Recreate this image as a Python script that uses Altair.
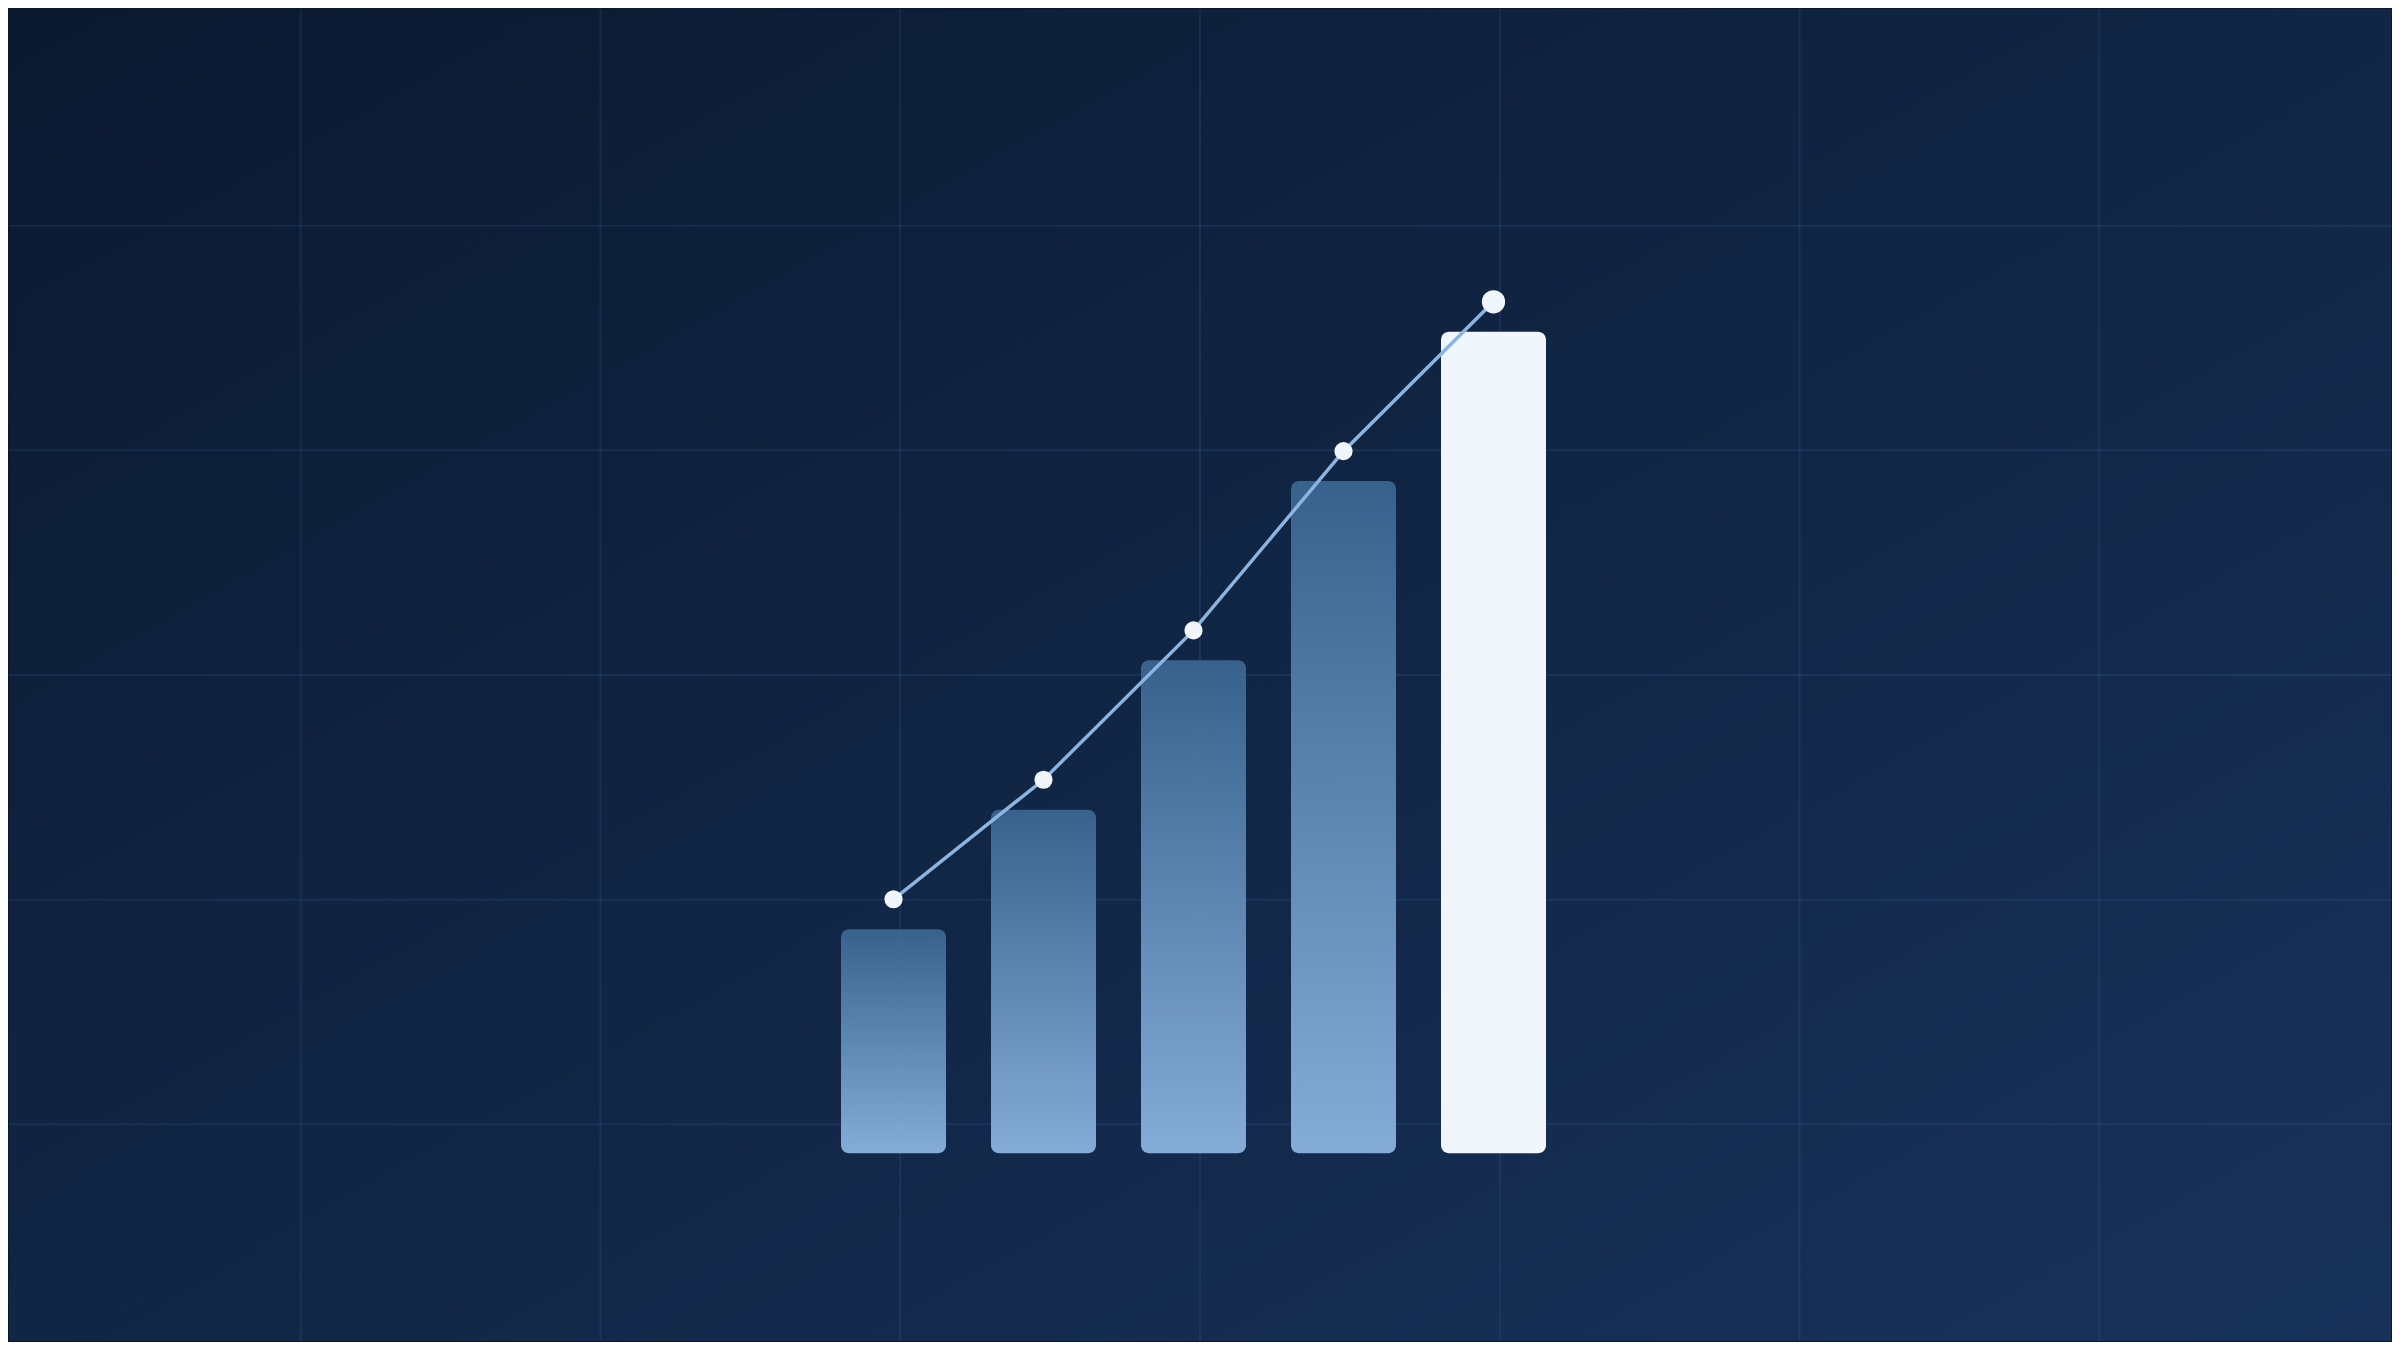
import altair as alt
import pandas as pd

# ---- data ----
categories = ["A", "B", "C", "D", "E"]
bar_values = [15, 23, 33, 45, 55]
line_values = [17, 25, 35, 47, 57]
highlight = [False, False, False, False, True]
grid_x = [1, 2, 3, 4, 5, 6, 7]
grid_y = [1, 2, 3, 4, 5]

W, H = 2384, 1334

df = pd.DataFrame({"cat": categories, "bar": bar_values, "line": line_values, "hl": highlight})

bg_gradient = alt.LinearGradient(
    gradient="linear", x1=0, y1=0, x2=1, y2=1,
    stops=[alt.GradientStop(color="#0b1930", offset=0),
           alt.GradientStop(color="#17325a", offset=1)],
)
bar_gradient = alt.LinearGradient(
    gradient="linear", x1=0, y1=0, x2=0, y2=1,
    stops=[alt.GradientStop(color="#3a6591", offset=0),
           alt.GradientStop(color="#8cb4e0", offset=1)],
)

bg = alt.Chart(pd.DataFrame({"k": [0]})).mark_rect(fill=bg_gradient).encode(
    x=alt.value(0), x2=alt.value("width"), y=alt.value(0), y2=alt.value("height")
)

vgrid = alt.Chart(pd.DataFrame({"gx": grid_x})).mark_rule(
    color="#60a5fa", opacity=0.1, strokeWidth=2
).encode(
    x=alt.X("gx:Q", scale=alt.Scale(domain=[0.0267, 7.9733], nice=False, zero=False), axis=None)
)
hgrid = alt.Chart(pd.DataFrame({"gy": grid_y})).mark_rule(
    color="#60a5fa", opacity=0.1, strokeWidth=2
).encode(
    y=alt.Y("gy:Q", scale=alt.Scale(domain=[0.0356, 5.9644], nice=False, zero=False), axis=None)
)
grid = alt.layer(vgrid, hgrid)

x_enc = alt.X("cat:N", sort=categories, axis=None,
              scale=alt.Scale(domain=categories, paddingInner=0.3, paddingOuter=0,
                              range=[832, 1537]))
y_scale = alt.Scale(domain=[-12.57, 76.6], zero=False, nice=False)

base = alt.Chart(df)

bars_grad = base.transform_filter("!datum.hl").mark_bar(
    fill=bar_gradient, cornerRadius=8, opacity=0.94
).encode(
    x=x_enc,
    y=alt.Y("bar:Q", scale=y_scale, axis=None),
    y2=alt.datum(0),
)
bar_white = base.transform_filter("datum.hl").mark_bar(
    fill="#f0f6fb", cornerRadius=8
).encode(
    x=x_enc,
    y=alt.Y("bar:Q", scale=y_scale, axis=None),
    y2=alt.datum(0),
)
line = base.mark_line(color="#8cb4e0", strokeWidth=3.5).encode(
    x=x_enc,
    y=alt.Y("line:Q", scale=y_scale, axis=None),
)
points = base.mark_circle(color="#f1f6fb", opacity=1).encode(
    x=x_enc,
    y=alt.Y("line:Q", scale=y_scale, axis=None),
    size=alt.condition("datum.hl", alt.value(540), alt.value(330)),
)
main = alt.layer(bars_grad, bar_white, line, points)

chart = alt.layer(bg, grid, main).resolve_scale(
    x="independent", y="independent"
).properties(
    width=W, height=H, padding=0,
    autosize=alt.AutoSizeParams(type="fit", contains="padding"),
    background="#0b1930",
).configure_view(stroke=None)

chart.save("out.html", embed_options={"renderer": "svg", "actions": False})
